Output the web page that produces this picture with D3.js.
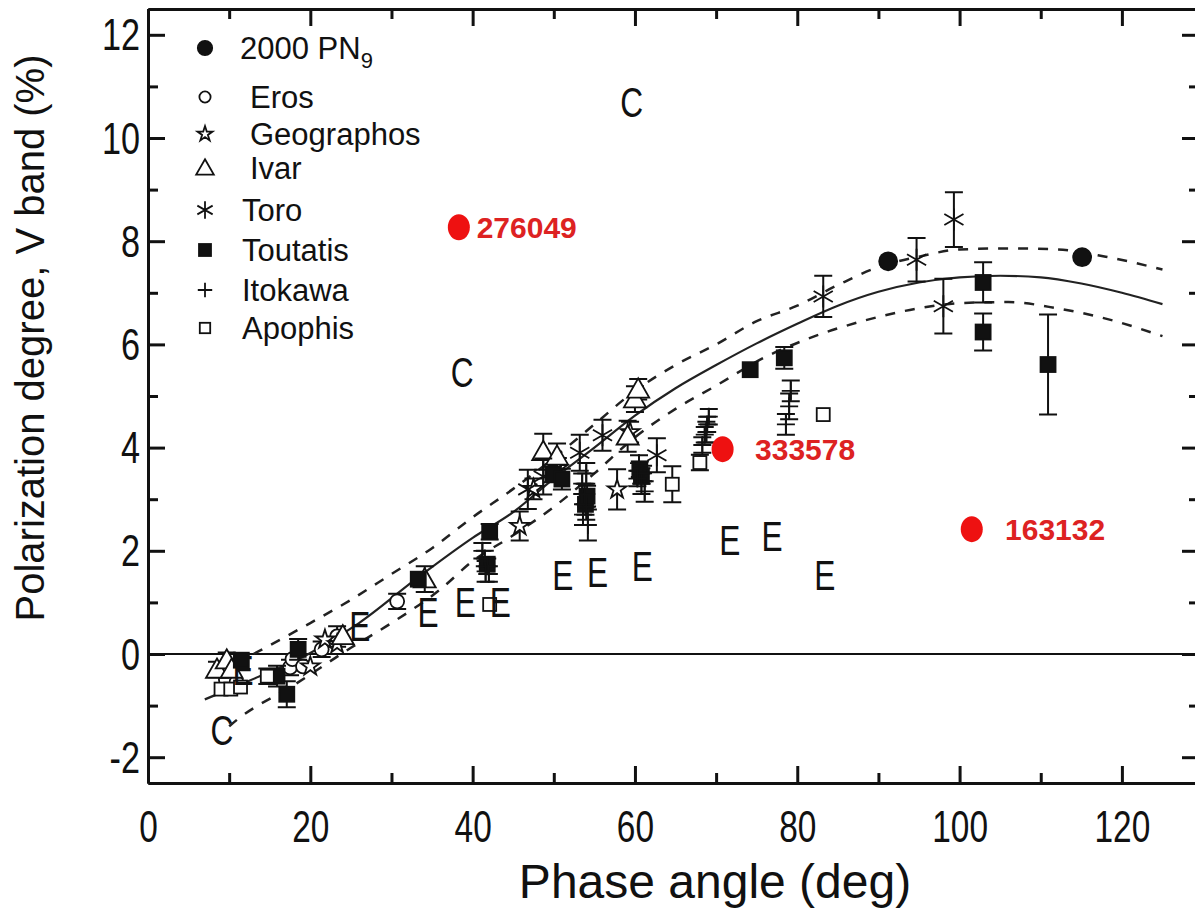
<!DOCTYPE html>
<html>
<head>
<meta charset="utf-8">
<script src="https://cdn.jsdelivr.net/npm/d3@7"></script>
<style>
  body { margin: 0; background: #fff; }
  text { font-family: "Liberation Sans", Arial, sans-serif; }
</style>
</head>
<body>
<div id="chart"></div>
<script>
// data: [phase angle, polarization, error]
const pn9 = [[91.2, 7.61, 0], [115.1, 7.69, 0]];
const eros = [[9.6, -0.5, 0], [10.9, -0.55, 0], [17.5, -0.26, 0.15], [17.8, -0.1, 0], [19.1, -0.24, 0],
    [21.4, 0.09, 0.15], [23.3, 0.34, 0.2], [30.7, 1.02, 0.15]];
const geographos = [[20.0, -0.24, 0], [21.8, 0.28, 0], [23.3, 0.19, 0], [45.8, 2.48, 0.28],
    [47.5, 3.2, 0.2], [50.5, 3.6, 0.2], [57.8, 3.19, 0.39], [59.4, 4.3, 0.2]];
const ivar = [[8.5, -0.3, 0.15], [9.7, -0.12, 0.15], [10.3, -0.3, 0], [24.0, 0.35, 0], [34.1, 1.45, 0.25],
    [48.7, 3.92, 0.35], [50.4, 3.83, 0.25], [59.1, 4.22, 0.3], [60.0, 4.94, 0.25], [60.4, 5.13, 0.2]];
const toro = [[46.8, 3.19, 0.38], [48.7, 3.44, 0.35], [53.2, 3.9, 0.35], [56.0, 4.24, 0.3], [62.7, 3.85, 0.33],
    [83.2, 6.93, 0.4], [94.7, 7.64, 0.42], [98.0, 6.74, 0.53], [99.3, 8.42, 0.53]];
const toutatis = [[11.5, -0.12, 0], [15.9, -0.43, 0.2], [17.1, -0.78, 0.25], [18.5, 0.09, 0.2], [33.3, 1.45, 0],
    [41.8, 1.74, 0], [42.1, 2.37, 0.15], [49.9, 3.48, 0.15], [51.0, 3.39, 0.2], [53.9, 2.9, 0.2],
    [54.1, 3.06, 0.2], [60.6, 3.58, 0.15], [60.8, 3.45, 0.15], [74.2, 5.51, 0], [78.4, 5.74, 0.21],
    [102.9, 7.2, 0.39], [102.9, 6.24, 0.36], [110.9, 5.61, 0.97]];
const itokawa = [[41.2, 2.0, 0.15], [41.5, 1.85, 0.15], [41.8, 1.7, 0.15], [42.0, 1.55, 0.15], [41.6, 1.6, 0.2],
    [53.5, 3.3, 0.2], [53.8, 3.1, 0.2], [54.0, 2.85, 0.25], [53.6, 2.7, 0.2], [54.2, 2.5, 0.3], [54.0, 3.5, 0.2],
    [60.5, 3.7, 0.15], [61.0, 3.5, 0.15], [60.8, 3.3, 0.2], [61.2, 3.15, 0.2], [60.3, 3.4, 0.15],
    [68.3, 4.05, 0.15], [68.6, 4.25, 0.15], [68.9, 4.45, 0.15], [69.1, 4.6, 0.15], [68.8, 4.3, 0.2],
    [78.6, 4.45, 0.2], [79.0, 4.8, 0.25], [79.2, 5.1, 0.2]];
const apophis = [[9.0, -0.68, 0], [10.2, -0.68, 0], [11.4, -0.64, 0], [14.7, -0.43, 0.15], [42.1, 0.96, 0],
    [64.6, 3.29, 0.35], [68.0, 3.71, 0.15], [83.2, 4.64, 0]];

// fitted curve and its band
const fitLine = [[7, -0.88], [12, -0.55], [20, 0.02], [26, 0.6], [33, 1.45], [40, 2.25], [45, 2.75], [50, 3.4],
    [55, 4.0], [60, 4.62], [65, 5.15], [70, 5.6], [75, 6.02], [80, 6.4], [85, 6.75], [90, 7.02], [95, 7.2],
    [100, 7.3], [105, 7.33], [110, 7.3], [115, 7.18], [120, 7.0], [125, 6.78]];
const upperBand = [[13, 0.0], [20, 0.6], [25, 1.05], [30, 1.55], [35, 2.05], [40, 2.65], [45, 3.2], [50, 3.8],
    [55, 4.45], [60, 5.1], [65, 5.6], [70, 6.0], [75, 6.45], [80, 6.75], [85, 7.15], [90, 7.5], [95, 7.7],
    [100, 7.84], [106, 7.86], [112, 7.84], [118, 7.7], [125, 7.45]];
const lowerBand = [[10, -1.4], [11, -1.27], [18, -0.6], [25, 0.12], [30, 0.6], [36, 1.25], [40, 1.8], [45, 2.3],
    [50, 2.85], [55, 3.5], [60, 4.2], [65, 4.75], [70, 5.2], [76, 5.75], [82, 6.15], [88, 6.45], [95, 6.7],
    [100, 6.8], [106, 6.82], [112, 6.7], [118, 6.5], [125, 6.16]];

// letter marks (C / E types)
const letterX = [59.6, 38.7, 9.1, 11.7, 26.1, 34.5, 39.1, 43.4, 51.1, 55.4, 60.9, 71.7, 76.9, 83.4];
const letterY = [10.65, 5.42, -1.52, -0.34, 0.5, 0.78, 0.97, 0.97, 1.5, 1.56, 1.66, 2.18, 2.25, 1.5];
const letterText = ["C", "C", "C", "E", "E", "E", "E", "E", "E", "E", "E", "E", "E", "E"];

// highlighted asteroids
const redNames = ["276049", "333578", "163132"];
const redX = [38.3, 70.8, 101.5];
const redY = [8.27, 3.97, 2.42];
const redLabelX = [40.5, 74.8, 105.6];

// x ticks / y ticks
const xMajor = [0, 20, 40, 60, 80, 100, 120];
const xMinor = [10, 30, 50, 70, 90, 110];
const yMajor = [-2, 0, 2, 4, 6, 8, 10, 12];
const yMinor = [-1, 1, 3, 5, 7, 9, 11];

const width = 1195, height = 912;

const svg = d3.select("#chart")
    .append("svg")
    .attr("width", width)
    .attr("height", height);

svg.append("rect").attr("width", width).attr("height", height).attr("fill", "#fff");

const xScale = d3.scaleLinear().domain([0, 129.5]).range([148, 1199]);
const yScale = d3.scaleLinear().domain([-2.5, 12.5]).range([783, 9]);

svg.append("clipPath").attr("id", "clip")
    .append("rect")
    .attr("x", 148).attr("y", 9).attr("width", 1199 - 148).attr("height", 783 - 9);

const plot = svg.append("g").attr("clip-path", "url(#clip)");

// zero line
plot.append("line")
    .attr("x1", xScale(0)).attr("x2", xScale(129.5))
    .attr("y1", yScale(0)).attr("y2", yScale(0))
    .attr("stroke", "#111").attr("stroke-width", 2);

// fit curves
const line = d3.line()
    .x(d => xScale(d[0]))
    .y(d => yScale(d[1]))
    .curve(d3.curveMonotoneX);

plot.append("path").datum(fitLine)
    .attr("d", line).attr("fill", "none")
    .attr("stroke", "#222").attr("stroke-width", 2.2);
[upperBand, lowerBand].forEach(band => {
    plot.append("path").datum(band)
        .attr("d", line).attr("fill", "none")
        .attr("stroke", "#222").attr("stroke-width", 2.5)
        .attr("stroke-dasharray", "10,10");
});

// marker drawing
function drawMarker(g, type, cx, cy, legend) {
    const k = legend ? 0.8 : 1;
    let el;
    if (type === "fcircle") {
        el = g.append("circle").attr("cx", cx).attr("cy", cy).attr("r", 9 * k).attr("fill", "#111");
    } else if (type === "ocircle") {
        el = g.append("circle").attr("cx", cx).attr("cy", cy).attr("r", 7 * k).attr("fill", "#fff");
    } else if (type === "star") {
        el = g.append("path").attr("transform", `translate(${cx},${cy})`)
            .attr("d", d3.symbol(d3.symbolStar, 110 * k * k)()).attr("fill", "#fff");
    } else if (type === "tri") {
        const h = 11 * k;
        el = g.append("path")
            .attr("d", `M${cx},${cy - h}L${cx + h},${cy + h * 0.75}L${cx - h},${cy + h * 0.75}Z`)
            .attr("fill", "#fff");
    } else if (type === "aster") {
        const r = 11 * k;
        el = g.append("path")
            .attr("d", `M${cx},${cy - r}V${cy + r}` +
                `M${cx - r * 0.87},${cy - r * 0.5}L${cx + r * 0.87},${cy + r * 0.5}` +
                `M${cx - r * 0.87},${cy + r * 0.5}L${cx + r * 0.87},${cy - r * 0.5}`)
            .attr("fill", "none");
    } else if (type === "fsquare") {
        const s = 15 * k;
        el = g.append("rect").attr("x", cx - s / 2).attr("y", cy - s / 2)
            .attr("width", s).attr("height", s).attr("fill", "#111");
    } else if (type === "plus") {
        const r = 9 * k;
        el = g.append("path").attr("d", `M${cx - r},${cy}H${cx + r}M${cx},${cy - r}V${cy + r}`)
            .attr("fill", "none");
    } else {
        const s = 13 * k;
        el = g.append("rect").attr("x", cx - s / 2).attr("y", cy - s / 2)
            .attr("width", s).attr("height", s).attr("fill", "#fff");
    }
    el.attr("stroke", "#111").attr("stroke-width", 1.8);
}

const series = [
    {name: "2000 PN", sub: "9", type: "fcircle", data: pn9, ly: 48, lx: 240},
    {name: "Eros", type: "ocircle", data: eros, ly: 97, lx: 250},
    {name: "Geographos", type: "star", data: geographos, ly: 134, lx: 250},
    {name: "Ivar", type: "tri", data: ivar, ly: 168, lx: 250},
    {name: "Toro", type: "aster", data: toro, ly: 210, lx: 242},
    {name: "Toutatis", type: "fsquare", data: toutatis, ly: 250, lx: 242},
    {name: "Itokawa", type: "plus", data: itokawa, ly: 290, lx: 242},
    {name: "Apophis", type: "osquare", data: apophis, ly: 328, lx: 242}
];

// draw error bars then markers
series.forEach(s => {
    const g = plot.append("g");
    s.data.filter(d => d[2] > 0).forEach(d => {
        const x = xScale(d[0]), y1 = yScale(d[1] - d[2]), y2 = yScale(d[1] + d[2]);
        g.append("path")
            .attr("d", `M${x},${y1}V${y2}M${x - 9},${y1}H${x + 9}M${x - 9},${y2}H${x + 9}`)
            .attr("stroke", "#111").attr("stroke-width", 2).attr("fill", "none");
    });
    s.data.forEach(d => drawMarker(g, s.type, xScale(d[0]), yScale(d[1]), false));
});

// letters C and E
plot.selectAll("text.letter")
    .data(letterText)
    .enter()
    .append("text")
    .attr("class", "letter")
    .attr("transform", (d, i) => `translate(${xScale(letterX[i])},${yScale(letterY[i]) + 13}) scale(0.88,1.2)`)
    .attr("text-anchor", "middle")
    .attr("font-size", 36)
    .attr("fill", "#111")
    .text(d => d);

// red highlighted points
redNames.forEach((n, i) => {
    plot.append("ellipse")
        .attr("cx", xScale(redX[i])).attr("cy", yScale(redY[i]))
        .attr("rx", 11).attr("ry", 13)
        .attr("fill", "#ee1111");
    plot.append("text")
        .attr("x", xScale(redLabelX[i])).attr("y", yScale(redY[i]) + 11)
        .attr("font-size", 30).attr("font-weight", "bold")
        .attr("fill", "#dd2222")
        .text(n);
});

// legend
series.forEach(s => {
    const g = svg.append("g");
    drawMarker(g, s.type, 205, s.ly, true);
    const t = g.append("text")
        .attr("x", s.lx).attr("y", s.ly + 11)
        .attr("font-size", 31).attr("fill", "#111")
        .text(s.name);
    if (s.sub) {
        t.append("tspan").attr("dy", 9).attr("font-size", 22).text(s.sub);
    }
});

// axes
function styleAxis(g) {
    g.select(".domain").attr("stroke", "#111").attr("stroke-width", 3);
    g.selectAll(".tick line").attr("stroke", "#111").attr("stroke-width", 3);
}

const axisB = svg.append("g").attr("transform", "translate(0,783)")
    .call(d3.axisBottom(xScale).tickValues(xMajor).tickSizeInner(-17).tickSizeOuter(0).tickFormat(d => String(d)));
axisB.selectAll("text")
    .attr("y", 0).attr("dy", 0)
    .attr("transform", "translate(0,59) scale(0.88,1.15)")
    .attr("font-size", 38).attr("fill", "#111")
    .attr("font-family", "Liberation Sans, Arial, sans-serif");
styleAxis(axisB);
styleAxis(svg.append("g").attr("transform", "translate(0,783)")
    .call(d3.axisBottom(xScale).tickValues(xMinor).tickSizeInner(-10).tickSizeOuter(0).tickFormat("")));

styleAxis(svg.append("g").attr("transform", "translate(0,9)")
    .call(d3.axisTop(xScale).tickValues(xMajor).tickSizeInner(-17).tickSizeOuter(0).tickFormat("")));
styleAxis(svg.append("g").attr("transform", "translate(0,9)")
    .call(d3.axisTop(xScale).tickValues(xMinor).tickSizeInner(-10).tickSizeOuter(0).tickFormat("")));

const axisL = svg.append("g").attr("transform", "translate(148,0)")
    .call(d3.axisLeft(yScale).tickValues(yMajor).tickSizeInner(-17).tickSizeOuter(0).tickFormat(d => String(d)));
axisL.selectAll("text")
    .attr("x", 0).attr("dy", 0)
    .attr("transform", "translate(-8,15) scale(0.9,1.15)")
    .attr("font-size", 38).attr("fill", "#111")
    .attr("font-family", "Liberation Sans, Arial, sans-serif");
styleAxis(axisL);
styleAxis(svg.append("g").attr("transform", "translate(148,0)")
    .call(d3.axisLeft(yScale).tickValues(yMinor).tickSizeInner(-10).tickSizeOuter(0).tickFormat("")));

styleAxis(svg.append("g").attr("transform", "translate(1199,0)")
    .call(d3.axisRight(yScale).tickValues(yMajor).tickSizeInner(-17).tickSizeOuter(0).tickFormat("")));
styleAxis(svg.append("g").attr("transform", "translate(1199,0)")
    .call(d3.axisRight(yScale).tickValues(yMinor).tickSizeInner(-10).tickSizeOuter(0).tickFormat("")));

// axis titles
svg.append("text")
    .attr("x", 715).attr("y", 898)
    .attr("text-anchor", "middle")
    .attr("font-size", 48).attr("fill", "#111")
    .text("Phase angle (deg)");

svg.append("text")
    .attr("transform", "translate(44,338) rotate(-90)")
    .attr("text-anchor", "middle")
    .attr("font-size", 40).attr("fill", "#111")
    .text("Polarization degree, V band (%)");
</script>
</body>
</html>
